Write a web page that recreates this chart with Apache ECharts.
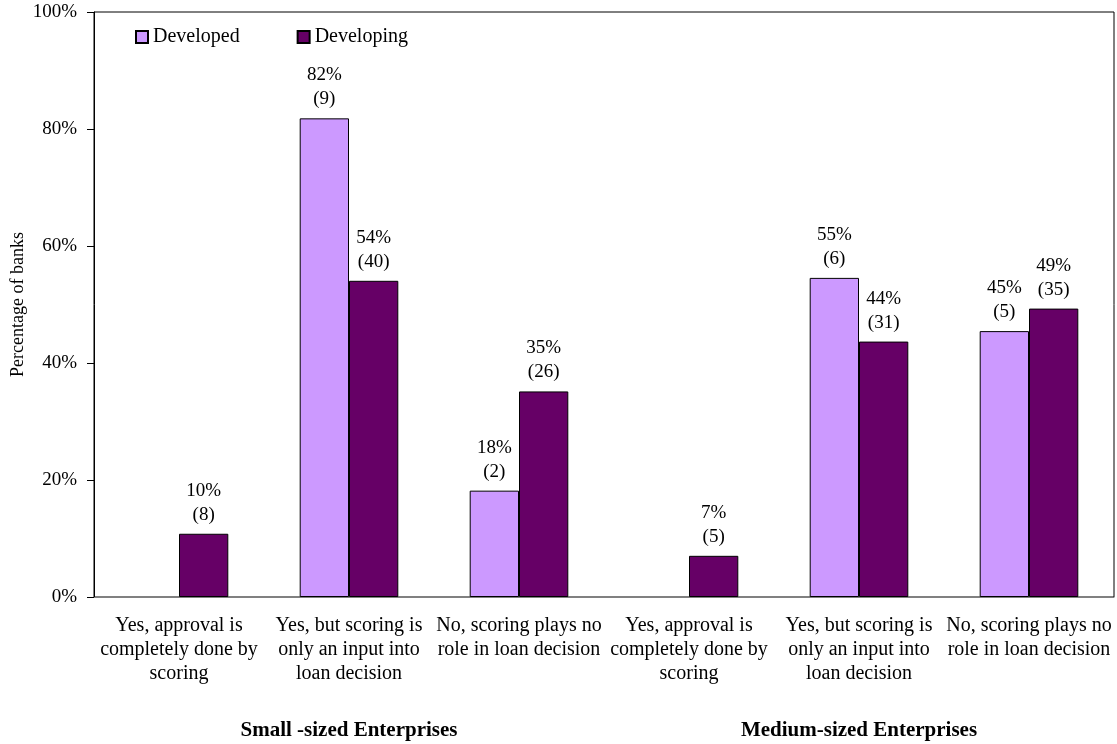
<!DOCTYPE html>
<html>
<head>
<meta charset="utf-8">
<script src="https://cdn.jsdelivr.net/npm/echarts@6/dist/echarts.min.js"></script>
<style>
html,body{margin:0;padding:0;background:#fff;}
#chart{width:1117px;height:744px;}
</style>
</head>
<body>
<div id="chart"></div>
<script>
var categories = [
  'Yes, approval is\ncompletely done by\nscoring',
  'Yes, but scoring is\nonly an input into\nloan decision',
  'No, scoring plays no\nrole in loan decision',
  'Yes, approval is\ncompletely done by\nscoring',
  'Yes, but scoring is\nonly an input into\nloan decision',
  'No, scoring plays no\nrole in loan decision'
];
var groups = ['Small -sized Enterprises', 'Medium-sized Enterprises'];
var seriesNames = ['Developed', 'Developing'];
var developedPct = [null, 81.82, 18.18, null, 54.55, 45.45];
var developingPct = [10.81, 54.05, 35.14, 7.04, 43.66, 49.30];
var developedPctLabels = [null, 82, 18, null, 55, 45];
var developingPctLabels = [10, 54, 35, 7, 44, 49];
var developedCounts = [null, 9, 2, null, 6, 5];
var developingCounts = [8, 40, 26, 5, 31, 35];
var yTicks = [0, 20, 40, 60, 80, 100];

var FONT = '"Liberation Serif", "Times New Roman", serif';
var chart = echarts.init(document.getElementById('chart'));

function makeLabel(pcts, counts) {
  return {
    show: true,
    position: 'top',
    distance: 7,
    fontFamily: FONT,
    fontSize: 19,
    lineHeight: 24,
    color: '#000',
    align: 'center',
    formatter: function (p) {
      if (p.value == null) return '';
      return pcts[p.dataIndex] + '%\n(' + counts[p.dataIndex] + ')';
    }
  };
}

chart.setOption({
  animation: false,
  backgroundColor: '#fff',
  textStyle: { fontFamily: FONT, color: '#000' },
  legend: {
    data: seriesNames,
    left: 135,
    top: 27,
    padding: 0,
    icon: 'rect',
    itemWidth: 12,
    itemHeight: 12,
    itemGap: 57,
    textStyle: { fontFamily: FONT, fontSize: 20, color: '#000' }
  },
  grid: {
    left: 94, right: 3, top: 12, bottom: 147,
    containLabel: false,
    outerBoundsMode: 'none',
    show: true, borderColor: '#000', borderWidth: 1, backgroundColor: '#fff'
  },
  xAxis: [{
    type: 'category',
    data: categories,
    axisLine: { lineStyle: { color: '#808080', width: 1 } },
    axisTick: { show: false },
    axisLabel: {
      interval: 0, margin: 17, fontFamily: FONT, fontSize: 20, lineHeight: 24, color: '#000', align: 'center'
    }
  }, {
    type: 'category',
    data: groups,
    position: 'bottom',
    axisLine: { show: false },
    axisTick: { show: false },
    axisLabel: {
      interval: 0, margin: 123, fontFamily: FONT, fontSize: 21, fontWeight: 'bold', color: '#000'
    }
  }],
  yAxis: {
    type: 'value',
    min: yTicks[0],
    max: yTicks[yTicks.length - 1],
    interval: 20,
    name: 'Percentage of banks',
    nameLocation: 'middle',
    nameGap: 67,
    nameMoveOverlap: false,
    nameTextStyle: { fontFamily: FONT, fontSize: 18, color: '#000' },
    axisLine: { show: true, lineStyle: { color: '#000', width: 1 } },
    axisTick: { show: true, length: 7, inside: false, lineStyle: { color: '#000' } },
    splitLine: { show: false },
    axisLabel: { margin: 17, fontFamily: FONT, fontSize: 19, color: '#000', formatter: '{value}%' }
  },
  series: [{
    name: seriesNames[0],
    type: 'bar',
    data: developedPct,
    barGap: '0%',
    barCategoryGap: '42%',
    itemStyle: { color: '#CC99FF', borderColor: '#000', borderWidth: 1 },
    label: makeLabel(developedPctLabels, developedCounts)
  }, {
    name: seriesNames[1],
    type: 'bar',
    data: developingPct,
    barGap: '0%',
    barCategoryGap: '42%',
    itemStyle: { color: '#660066', borderColor: '#000', borderWidth: 1 },
    label: makeLabel(developingPctLabels, developingCounts)
  }]
});
</script>
</body>
</html>
